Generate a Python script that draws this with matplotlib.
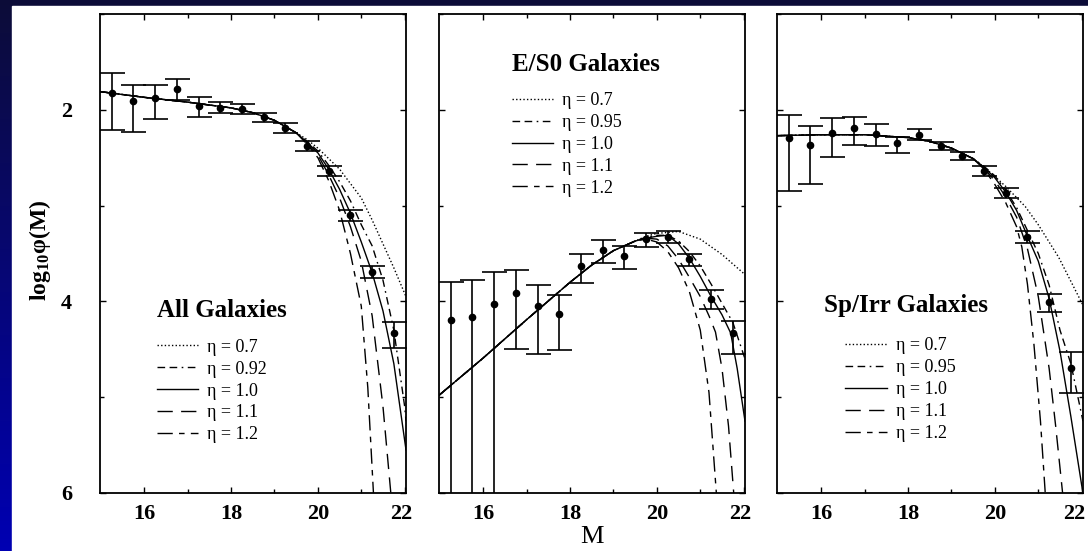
import numpy as np
import matplotlib
matplotlib.use('Agg')
import matplotlib.pyplot as plt
import matplotlib.transforms as mtransforms
from matplotlib.patches import Rectangle

plt.rcParams['font.family'] = ['Liberation Serif', 'DejaVu Serif']
plt.rcParams['mathtext.fontset'] = 'custom'
plt.rcParams['mathtext.rm'] = 'Liberation Serif'
plt.rcParams['mathtext.bf'] = 'Liberation Serif:bold'
plt.rcParams['mathtext.default'] = 'bf'
plt.rcParams['lines.scale_dashes'] = False

# 数据点的星等 M
M_pts = [15.25, 15.75, 16.25, 16.75, 17.25, 17.75, 18.25, 18.75,
         19.25, 19.75, 20.25, 20.75, 21.25, 21.75]

# All Galaxies
all_y = [1.82, 1.91, 1.88, 1.78, 1.96, 1.98, 1.99, 2.08, 2.19, 2.38, 2.64, 3.10, 3.69, 4.33]
all_lo = [1.62, 1.74, 1.74, 1.68, 1.87, 1.92, 1.94, 2.03, 2.14, 2.33, 2.59, 3.05, 3.63, 4.22]
all_hi = [2.21, 2.23, 2.10, 1.90, 2.07, 2.03, 2.04, 2.13, 2.24, 2.43, 2.69, 3.16, 3.76, 4.49]

# E/S0 Galaxies
es0_y = [4.19, 4.16, 4.03, 3.91, 4.05, 4.13, 3.63, 3.46, 3.53, 3.35, 3.33, 3.56, 3.97, 4.33]
es0_lo = [3.80, 3.78, 3.69, 3.67, 3.83, 3.93, 3.51, 3.36, 3.42, 3.29, 3.27, 3.50, 3.88, 4.20]
es0_hi = [7.00, 7.00, 7.00, 4.50, 4.55, 4.51, 3.81, 3.60, 3.66, 3.43, 3.39, 3.63, 4.08, 4.55]

# Sp/Irr Galaxies
sp_y = [2.29, 2.37, 2.24, 2.19, 2.25, 2.35, 2.26, 2.38, 2.48, 2.64, 2.87, 3.33, 4.01, 4.70]
sp_lo = [2.05, 2.17, 2.09, 2.07, 2.15, 2.28, 2.20, 2.34, 2.44, 2.59, 2.82, 3.27, 3.92, 4.53]
sp_hi = [2.85, 2.77, 2.49, 2.37, 2.38, 2.45, 2.32, 2.42, 2.52, 2.69, 2.92, 3.39, 4.11, 4.96]

# 模型曲线: 共同的前段 + 各 eta 的尾段
head_M = [14.98, 16.0, 17.0, 18.0, 18.5, 19.0, 19.5]
all_head = [1.81, 1.87, 1.92, 1.98, 2.03, 2.11, 2.24]
es0_head = [4.98, 4.59, 4.19, 3.80, 3.62, 3.47, 3.37]
sp_head = [2.27, 2.26, 2.26, 2.29, 2.33, 2.40, 2.51]

all_tails = [
    ([19.75, 20.0, 20.5, 21.0, 21.25, 21.5, 21.75, 22.03],
     [2.31, 2.40, 2.62, 2.92, 3.15, 3.40, 3.65, 3.95]),
    ([19.75, 20.0, 20.25, 20.5, 20.75, 21.0, 21.25, 21.5, 21.75, 22.0, 22.03],
     [2.33, 2.43, 2.58, 2.75, 2.95, 3.20, 3.42, 3.78, 4.30, 5.10, 5.25]),
    ([19.75, 20.0, 20.25, 20.5, 20.75, 21.0, 21.25, 21.5, 21.75, 22.03],
     [2.34, 2.45, 2.62, 2.83, 3.08, 3.38, 3.70, 4.10, 4.65, 5.55]),
    ([19.75, 20.0, 20.25, 20.5, 20.75, 21.0, 21.25, 21.5, 21.68],
     [2.35, 2.47, 2.68, 2.92, 3.22, 3.58, 4.15, 5.10, 6.0]),
    ([19.75, 20.0, 20.25, 20.5, 20.75, 21.0, 21.15, 21.28],
     [2.36, 2.50, 2.74, 3.05, 3.50, 4.05, 4.90, 6.0]),
]
es0_tails = [
    ([19.75, 20.0, 20.5, 21.0, 21.5, 22.03],
     [3.32, 3.29, 3.27, 3.35, 3.51, 3.72]),
    ([19.75, 20.0, 20.25, 20.5, 20.75, 21.0, 21.25, 21.5, 21.75, 22.03],
     [3.33, 3.31, 3.31, 3.37, 3.48, 3.63, 3.82, 4.02, 4.22, 4.60]),
    ([19.75, 20.0, 20.25, 20.5, 20.75, 21.0, 21.25, 21.5, 21.7, 21.85, 22.03],
     [3.34, 3.32, 3.31, 3.40, 3.55, 3.74, 3.95, 4.14, 4.33, 4.70, 5.25]),
    ([19.75, 20.0, 20.25, 20.5, 20.75, 21.0, 21.2, 21.35, 21.5, 21.65, 21.77],
     [3.34, 3.35, 3.42, 3.56, 3.75, 3.95, 4.15, 4.32, 4.70, 5.30, 6.0]),
    ([19.75, 20.0, 20.25, 20.5, 20.75, 21.0, 21.2, 21.37],
     [3.35, 3.38, 3.48, 3.65, 3.90, 4.30, 4.95, 6.0]),
]
sp_tails = [
    ([19.86, 20.25, 20.7, 21.0, 21.47, 22.03],
     [2.64, 2.80, 3.01, 3.20, 3.54, 4.04]),
    ([19.75, 20.0, 20.25, 20.5, 20.75, 21.0, 21.25, 21.5, 21.75, 22.03],
     [2.59, 2.69, 2.84, 3.02, 3.26, 3.50, 3.83, 4.30, 4.65, 5.25]),
    ([19.75, 20.0, 20.25, 20.5, 20.75, 21.0, 21.25, 21.5, 21.75, 22.0, 22.03],
     [2.60, 2.71, 2.86, 3.05, 3.32, 3.58, 3.97, 4.52, 5.20, 5.92, 6.0]),
    ([19.75, 20.0, 20.25, 20.5, 20.75, 21.0, 21.25, 21.4, 21.56],
     [2.61, 2.74, 2.91, 3.12, 3.45, 3.95, 4.70, 5.30, 6.0]),
    ([19.75, 20.0, 20.25, 20.5, 20.62, 20.75, 20.9, 21.05, 21.16],
     [2.62, 2.78, 2.97, 3.22, 3.43, 3.82, 4.45, 5.25, 6.0]),
]

titles = ['All Galaxies', 'E/S0 Galaxies', 'Sp/Irr Galaxies']
eta_labels = [['0.7', '0.92', '1.0', '1.1', '1.2'],
              ['0.7', '0.95', '1.0', '1.1', '1.2'],
              ['0.7', '0.95', '1.0', '1.1', '1.2']]

# 线型: 点线, 划划点, 实线, 长划, 长划短划
styles = [(0, (1.0, 1.6)),
          (0, (5.5, 3.2, 5.5, 3.2, 1.2, 3.2)),
          '-',
          (0, (11, 6)),
          (0, (11, 4.5, 4, 4.5))]

fig = plt.figure(figsize=(10.88, 5.51), dpi=100)

# 背景: 蓝色渐变边框 + 白色区域
bg = fig.add_axes([0, 0, 1, 1], zorder=-10)
grad = np.linspace(0, 1, 256).reshape(-1, 1)
cols = np.zeros((256, 1, 3))
cols[:, 0, 0] = 0.0 + 0.05 * grad[:, 0]
cols[:, 0, 1] = 0.0 + 0.05 * grad[:, 0]
cols[:, 0, 2] = 0.70 - 0.48 * grad[:, 0]
bg.imshow(cols, aspect='auto', extent=[0, 1, 0, 1], origin='lower')
bg.add_patch(Rectangle((12 / 1088, 0), 1, 1 - 6 / 551, color='white'))
bg.set_xlim(0, 1)
bg.set_ylim(0, 1)
bg.axis('off')

lefts = [100, 439, 777]
panels = [
    (all_y, all_lo, all_hi, all_head, all_tails),
    (es0_y, es0_lo, es0_hi, es0_head, es0_tails),
    (sp_y, sp_lo, sp_hi, sp_head, sp_tails),
]
title_pos = [(0.186, 0.38), (0.2376, 0.895), (0.154, 0.392)]
leg_pos = [(0.186, 0.322), (0.2376, 0.837), (0.223, 0.325)]

for i, (yv, lo, hi, head, tails) in enumerate(panels):
    ax = fig.add_axes([lefts[i] / 1088, 1 - 493 / 551, 306 / 1088, 479 / 551])
    yv = np.array(yv)
    err = [yv - np.array(lo), np.array(hi) - yv]
    ax.errorbar(M_pts, yv, yerr=err, fmt='o', color='black', ms=4.5,
                elinewidth=1.2, capsize=9, capthick=1.2, zorder=3)
    lines = []
    for k, (tm, ty) in enumerate(tails):
        ln, = ax.plot(head_M + tm, head + ty, color='black', lw=1.0,
                      linestyle=styles[k])
        lines.append(ln)
    ax.set_xlim(14.98, 22.03)
    ax.set_ylim(6.0, 1.0)
    ax.set_xticks([16, 18, 20, 22])
    ax.set_xticks([17, 19, 21], minor=True)
    ax.set_yticks([2, 4, 6])
    ax.set_yticks([1, 3, 5], minor=True)
    ax.tick_params(which='both', direction='in', top=True, right=True, width=1.0)
    ax.tick_params(which='major', length=4.5)
    ax.tick_params(which='minor', length=3)
    ax.tick_params(axis='x', pad=8, labelsize=16)
    ax.tick_params(axis='y', pad=20, labelsize=16)
    for lab in ax.get_xticklabels() + ax.get_yticklabels():
        lab.set_fontweight('bold')
    if i > 0:
        ax.set_yticklabels([])
    # 最右的 "22" 稍微左移
    shift = -7 if i == 2 else -3
    offset = mtransforms.ScaledTranslation(shift / 100, 0, fig.dpi_scale_trans)
    last = ax.get_xticklabels()[-1]
    last.set_transform(last.get_transform() + offset)
    for s in ax.spines.values():
        s.set_linewidth(1.3)

    ax.text(title_pos[i][0], title_pos[i][1], titles[i], transform=ax.transAxes,
            fontsize=18, fontweight='bold', ha='left', va='center')
    ax.legend(lines, ['η = ' + e for e in eta_labels[i]], loc='upper left',
              bbox_to_anchor=leg_pos[i], frameon=False, fontsize=13,
              handlelength=2.3, handletextpad=0.5, labelspacing=0.27,
              borderpad=0, borderaxespad=0)

fig.text(40 / 1088, 1 - 250 / 551, 'log$_{10}$φ(M)', rotation=90,
         fontsize=17, fontweight='bold', ha='center', va='center')
fig.text(592 / 1088, 1 - 537 / 551, 'M', fontsize=19, ha='center', va='center')

plt.savefig('out.png', dpi=100)
